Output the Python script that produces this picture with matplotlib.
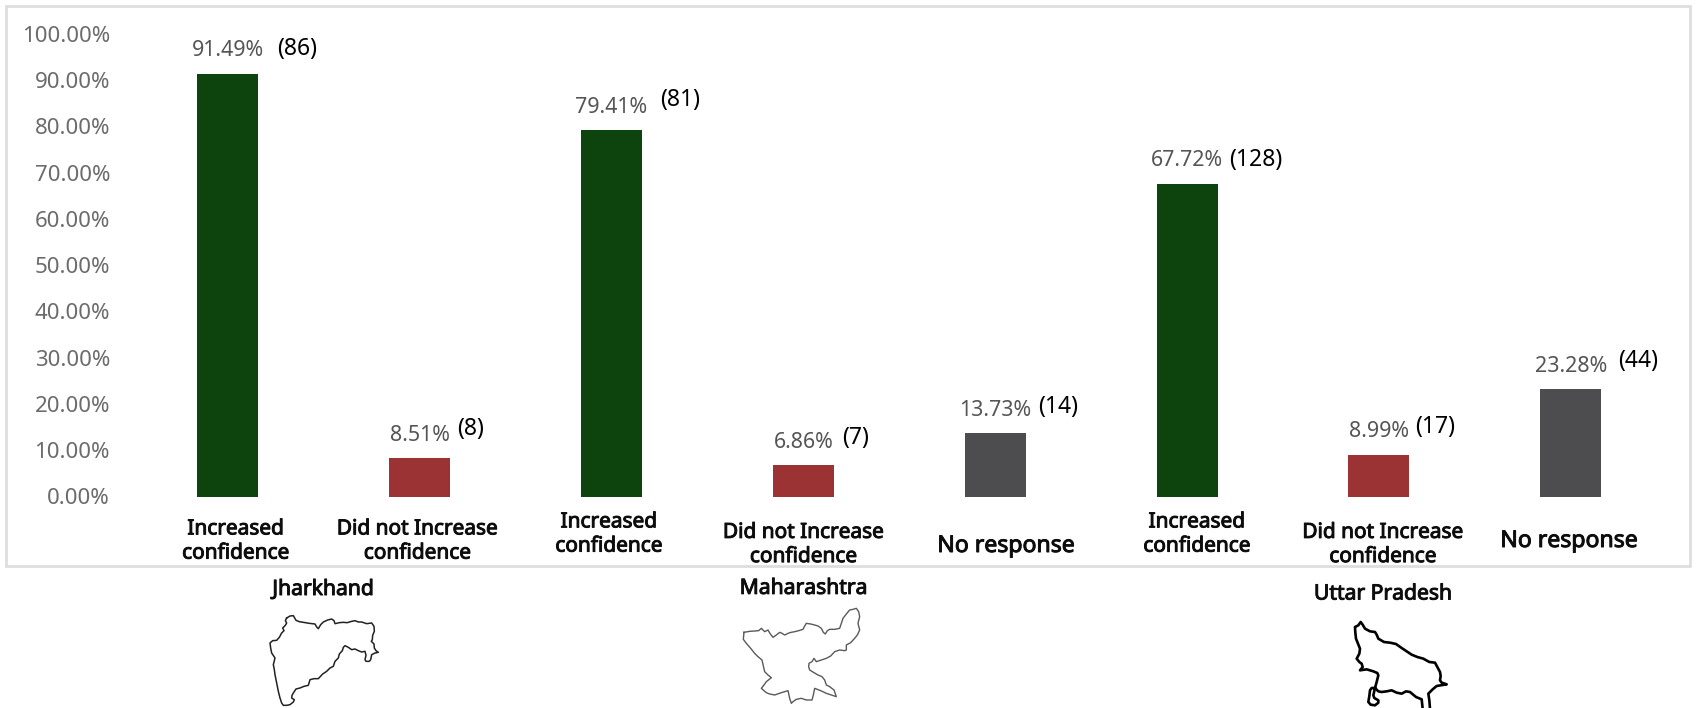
import matplotlib
matplotlib.use('Agg')
import matplotlib.pyplot as plt
from matplotlib.patches import Rectangle
from matplotlib.transforms import ScaledTranslation
import matplotlib.patheffects as pe
import numpy as np

plt.rcParams['font.family'] = ['Noto Sans', 'DejaVu Sans']

# survey results per state, left to right
outcomes = ['Increased\nconfidence', 'Did not Increase\nconfidence',
            'Increased\nconfidence', 'Did not Increase\nconfidence', 'No response',
            'Increased\nconfidence', 'Did not Increase\nconfidence', 'No response']
percents = [91.49, 8.51, 79.41, 6.86, 13.73, 67.72, 8.99, 23.28]
counts = [86, 8, 81, 7, 14, 128, 17, 44]
bar_colors = ['#0d440e', '#9b3234', '#0d440e', '#9b3234', '#4d4d4f',
              '#0d440e', '#9b3234', '#4d4d4f']
ytick_values = np.arange(0, 101, 10)

# label placement in pixels
pct_gap = [23, 22.5, 22.5, 23, 23, 23, 24, 23]
count_pos = [(297, 48.6), (470.5, 429.3), (680, 99.5), (855.5, 438),
             (1057.8, 406.6), (1255.7, 160), (1435, 427), (1638.6, 361)]
outcome_pos = [(235.8, 541), (417.5, 541), (609, 534), (803.6, 544.5),
               (1006, 546), (1197, 534), (1383, 544.5), (1569, 541)]
states = [('Jharkhand', 323, 589.5), ('Maharashtra', 803.6, 588.4), ('Uttar Pradesh', 1383, 594)]

# state outlines, traced at 3x and placed by an offset
outline_a = [(80,30),(90,24),(100,23),(104,30),(108,37),(118,41),(130,43),(148,46),(165,48),(170,57),(175,62),(182,50),
             (190,42),(203,36),(215,33),(222,38),(225,47),(238,44),(250,43),(262,44),(275,40),(285,38),(295,42),(305,42),(320,47),(335,45),
             (342,55),(343,70),(338,82),(337,95),(334,100),(342,108),(343,120),(348,128),(355,133),(345,135),(335,140),(332,155),(328,160),(318,160),(315,155),
             (318,142),(315,130),(305,132),(295,128),(285,123),(275,125),(265,118),(255,113),(250,118),(247,128),(238,138),(235,150),(225,160),(220,175),(210,180),(200,190),(188,198),(175,212),(162,212),(150,215),
             (147,225),(145,232),(132,235),(120,240),(108,243),(100,255),(96,262),(95,270),(103,275),(100,282),(90,290),(80,292),(70,292),(65,285),(60,270),(55,250),(50,225),(45,200),(43,185),(40,170),(45,150),
             (35,135),(32,120),(30,105),(38,98),(50,97),(58,88),(65,75),(72,68),(68,60),(76,52),(80,45),(76,38),(80,30)]
outline_b = [(18,97),(35,94),(50,93),(62,92),(70,85),(75,90),(80,95),(90,90),(97,102),(105,112),(115,105),(125,97),(132,100),(140,105),(155,98),(170,95),(182,92),(195,88),
             (200,78),(205,70),(218,72),(230,75),(240,78),(250,85),(256,97),(262,102),(268,92),(275,88),(290,88),(305,85),(310,70),(315,55),(325,42),(335,30),(345,28),(355,25),(362,35),(365,50),
             (360,70),(365,90),(358,105),(350,115),(338,128),(325,135),(325,150),(320,152),(305,150),(290,155),(278,168),(265,175),(250,180),(235,185),(228,175),(222,185),(213,190),(212,200),(215,210),
             (228,218),(240,225),(252,230),(260,240),(265,255),(275,260),(288,270),(295,290),(280,285),(265,280),(248,272),(230,265),(226,285),(222,300),(205,300),(190,295),(175,298),(165,305),(160,310),(155,295),
             (150,272),(130,278),(110,285),(95,282),(85,278),(70,265),(78,255),(85,245),(100,233),(90,225),(80,215),(76,198),(72,180),(60,170),(50,160),(38,145),(25,130),(16,118),(18,97)]
outline_c = [(270,290),(268,265),(265,245),(278,232),(290,222),(320,217),(305,212),(300,205),(302,192),(300,180),(292,165),(285,152),(268,150),(250,140),(232,135),(215,128),(200,118),(185,108),
             (168,96),(150,92),(132,90),(115,80),(110,68),(105,60),(90,58),(75,50),(68,38),(62,30),(55,40),(45,45),(46,62),(48,80),(54,95),(60,110),(58,125),(50,140),(58,150),(65,155),
             (68,165),(60,175),(80,172),(100,178),(112,183),(115,190),(110,210),(105,228),(115,238),(125,240),(140,238),(155,235),(170,242),(185,245),(198,238),(210,240),(228,255),(245,262),(248,290)]
outline_c_loop = [(105,228),(95,228),(90,235),(88,252),(85,270),(92,278),(105,280),(115,272),(115,265),(103,258),(100,250),(105,228)]

W, H = 1696, 708
fig = plt.figure(figsize=(W / 100, H / 100), dpi=100, facecolor='white')

# pixel-space layer for the frame, free labels and outlines
overlay = fig.add_axes([0, 0, 1, 1])
overlay.set_xlim(0, W)
overlay.set_ylim(H, 0)
overlay.axis('off')

ax = fig.add_axes([131.7 / W, 1 - 497 / H, 1535 / W, 462.5 / H])
ax.patch.set_alpha(0)
x = np.arange(len(percents))
bars = ax.bar(x, percents, width=0.318, color=bar_colors)
ax.set_xlim(-0.5, 7.5)
ax.set_ylim(0, 100)
ax.set_xticks([])
ax.set_yticks(ytick_values, [f'{v:.2f}%' for v in ytick_values])
ax.tick_params(axis='y', length=0, pad=15.6, labelsize=16, labelcolor='#6b6b6b')
# nudge the tick labels up a little
nudge = ScaledTranslation(0, 0.5 / 72, fig.dpi_scale_trans)
for tl in ax.get_yticklabels():
    tl.set_transform(tl.get_transform() + nudge)
for side in ax.spines.values():
    side.set_visible(False)

for bar, p, gap in zip(bars, percents, pct_gap):
    ax.annotate(f'{p:.2f}%', (bar.get_x() + bar.get_width() / 2, p), xytext=(0, gap * 0.72),
                textcoords='offset points', ha='center', va='center', fontsize=15.4, color='#555555')

overlay.add_patch(Rectangle((6, 6), 1684, 560, fill=False, edgecolor='#dedede', linewidth=2))

for n, (cx, cy) in zip(counts, count_pos):
    overlay.text(cx, cy, f'({n})', ha='center', va='center', fontsize=16.5, color='black')

# Noto Sans has no bold cut here, so thicken the strokes a bit
heavy = [pe.withStroke(linewidth=0.7, foreground='#0d0d0d')]
for label, (cx, cy) in zip(outcomes, outcome_pos):
    size = 16.6 if label == 'No response' else 15
    overlay.text(cx, cy, label, ha='center', va='center', fontsize=size, color='#0d0d0d',
                 linespacing=1.2, path_effects=heavy)

for name, cx, cy in states:
    overlay.text(cx, cy, name, ha='center', va='center', fontsize=15.2, color='#0d0d0d', path_effects=heavy)


def draw_outline(points, x0, y0, color, lw):
    pts = np.array(points) / 3
    overlay.plot(pts[:, 0] + x0, pts[:, 1] + y0, color=color, lw=lw, solid_joinstyle='round')


draw_outline(outline_a, 260, 608, '#222222', 1.1)
draw_outline(outline_b, 738, 600, '#5a5a5a', 1.0)
draw_outline(outline_c, 1340, 612, 'black', 1.9)
draw_outline(outline_c_loop, 1340, 612, 'black', 1.9)

fig.savefig('out.png', dpi=100)
